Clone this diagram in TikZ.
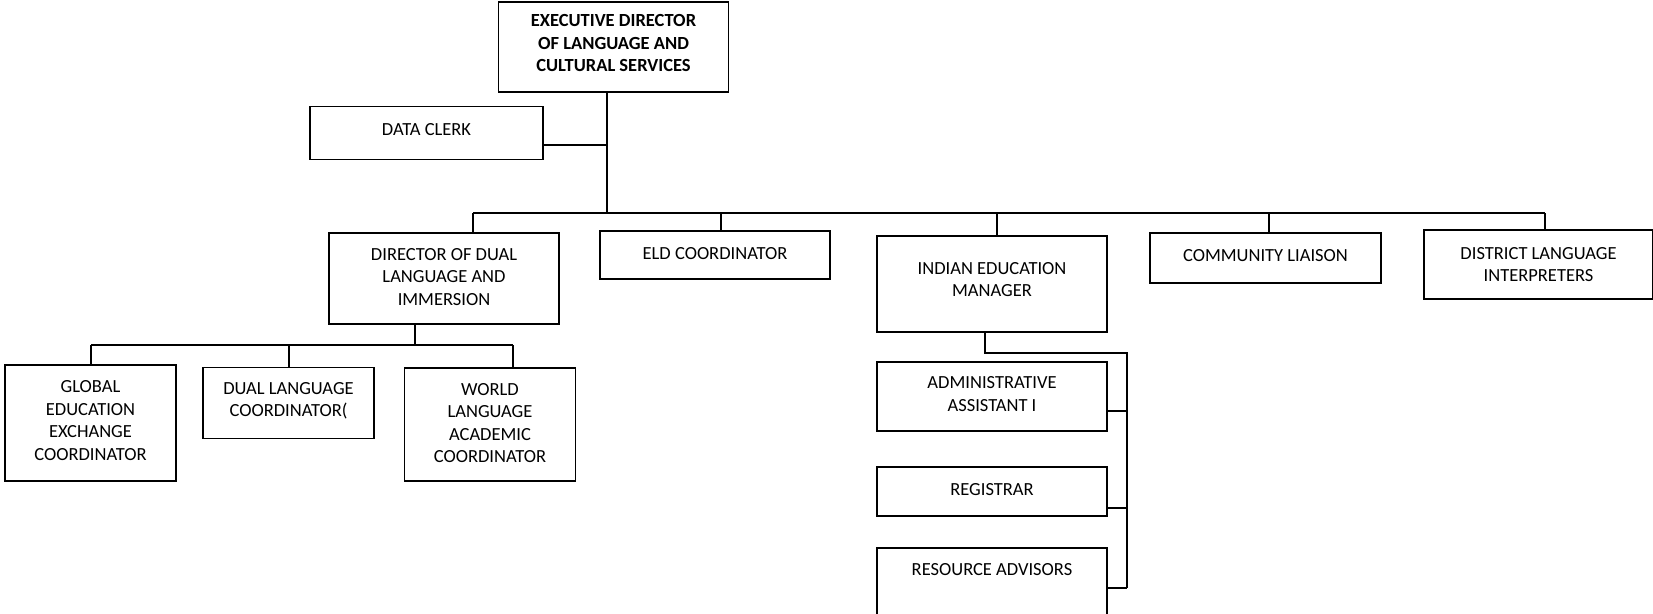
\documentclass[tikz,border=0pt]{standalone}
\usepackage{fontspec}
\setmainfont{Carlito}
\begin{document}
\begin{tikzpicture}[x=1pt,y=-1pt,
  box/.style={draw, line width=1.3pt, rectangle, inner sep=0pt, outer sep=0pt},
  txt/.style={align=center, inner sep=0pt, font=\fontsize{18.5}{22.5}\selectfont},
  conn/.style={line width=1.8pt}]
\useasboundingbox (0,0) rectangle (1653,613);
% boxes
\node[box, minimum width=230pt, minimum height=90pt] (exec) at (613.5,47) {};
\node[txt, font=\fontsize{18.5}{22.5}\selectfont\bfseries] (exect) at (613.5,43.5) {EXECUTIVE DIRECTOR\\OF LANGUAGE AND\\CULTURAL SERVICES};
\node[box, minimum width=233pt, minimum height=52.5pt] (data) at (426.5,133) {};
\node[txt] (datat) at (426.5,130) {DATA CLERK};

\node[box, minimum width=230pt, minimum height=91pt] (dir) at (444,278.5) {};
\node[txt] (dirt) at (444,277) {DIRECTOR OF DUAL\\LANGUAGE AND\\IMMERSION};
\node[box, minimum width=230pt, minimum height=48pt] (eld) at (715,255) {};
\node[txt] (eldt) at (715,254) {ELD COORDINATOR};
\node[box, minimum width=230pt, minimum height=96pt] (ind) at (992,284) {};
\node[txt] (indt) at (992,279.5) {INDIAN EDUCATION\\MANAGER};
\node[box, minimum width=231pt, minimum height=50pt] (com) at (1265.5,258) {};
\node[txt] (comt) at (1265.5,256) {COMMUNITY LIAISON};
\node[box, minimum width=229pt, minimum height=69pt] (dist) at (1538.5,264.5) {};
\node[txt] (distt) at (1538.5,264.5) {DISTRICT LANGUAGE\\INTERPRETERS};

\node[box, minimum width=171pt, minimum height=116pt] (glob) at (90.5,423) {};
\node[txt] (globt) at (90.5,420.5) {GLOBAL\\EDUCATION\\EXCHANGE\\COORDINATOR};
\node[box, minimum width=171pt, minimum height=71.5pt] (dlc) at (288.5,403) {};
\node[txt] (dlct) at (288.5,401) {DUAL LANGUAGE\\COORDINATOR(};
\node[box, minimum width=170.5pt, minimum height=113pt] (wla) at (490,424.5) {};
\node[txt] (wlat) at (490,423) {WORLD\\LANGUAGE\\ACADEMIC\\COORDINATOR};

\node[box, minimum width=230pt, minimum height=69pt] (adm) at (992,396.5) {};
\node[txt] (admt) at (992,394) {ADMINISTRATIVE\\ASSISTANT I};
\node[box, minimum width=230pt, minimum height=49pt] (reg) at (992,491.5) {};
\node[txt] (regt) at (992,490) {REGISTRAR};
\node[box, minimum width=230pt, minimum height=92pt] (res) at (992,594) {};
\node[txt] (rest) at (992,570) {RESOURCE ADVISORS};

% connectors
\coordinate (trunk) at (607,213);
\coordinate (busL) at (473,213);
\coordinate (busR) at (1545,213);
\draw[conn] (exec.south -| trunk) -- (trunk);
\draw[conn] (data.east |- 0,145) -- (trunk |- 0,145);
\draw[conn] (busL) -- (busR);
\draw[conn] (busL) -- (dir.north -| busL);
\draw[conn] (721,213) -- (eld.north -| 721,0);
\draw[conn] (997,213) -- (ind.north -| 997,0);
\draw[conn] (1269,213) -- (com.north -| 1269,0);
\draw[conn] (busR) -- (dist.north -| busR);

\coordinate (sub) at (415,345);
\coordinate (subL) at (91,345);
\coordinate (subR) at (513,345);
\draw[conn] (dir.south -| sub) -- (sub);
\draw[conn] (subL) -- (subR);
\draw[conn] (subL) -- (glob.north -| subL);
\draw[conn] (289,345) -- (dlc.north -| 289,0);
\draw[conn] (subR) -- (wla.north -| subR);

\coordinate (ibend) at (985,353);
\coordinate (itop) at (1127,353);
\coordinate (ibot) at (1127,588);
\draw[conn] (ind.south -| ibend) -- (ibend) -- (itop) -- (ibot);
\draw[conn] (adm.east |- 0,411) -- (itop |- 0,411);
\draw[conn] (reg.east |- 0,508) -- (itop |- 0,508);
\draw[conn] (res.east |- ibot) -- (ibot);
\end{tikzpicture}
\end{document}
